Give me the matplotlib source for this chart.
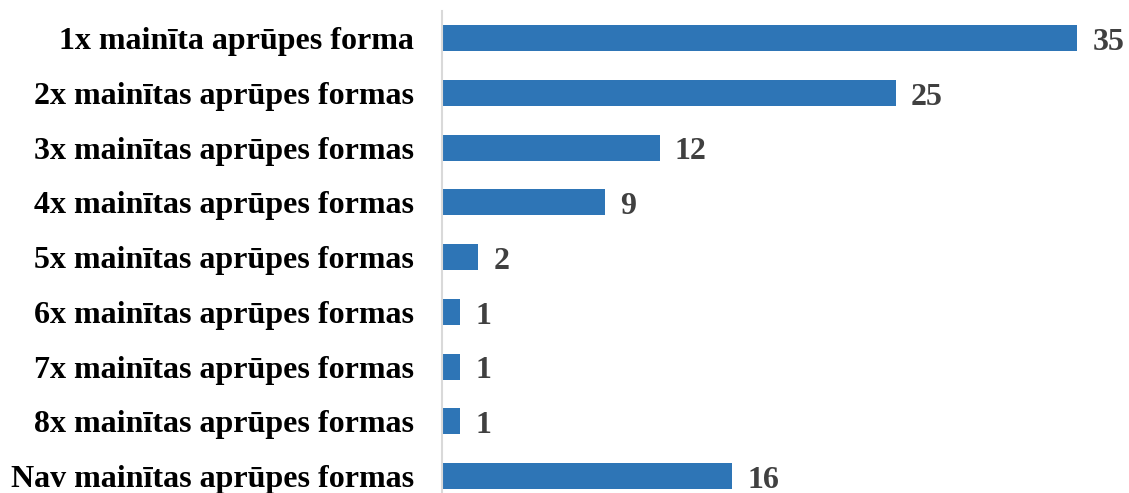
import matplotlib
matplotlib.use("Agg")
import matplotlib.pyplot as plt

categories = [
    "1x mainīta aprūpes forma",
    "2x mainītas aprūpes formas",
    "3x mainītas aprūpes formas",
    "4x mainītas aprūpes formas",
    "5x mainītas aprūpes formas",
    "6x mainītas aprūpes formas",
    "7x mainītas aprūpes formas",
    "8x mainītas aprūpes formas",
    "Nav mainītas aprūpes formas",
]
values = [35, 25, 12, 9, 2, 1, 1, 1, 16]

W, H = 1129, 493
fig = plt.figure(figsize=(W / 100, H / 100), dpi=100)
px_per_unit = (1078 - 443) / 35.0
xmax = 37.0
left_px, top_px = 442, 11
step = 54.7
n = len(categories)
height_px = step * n
ax = fig.add_axes([left_px / W, (H - top_px - height_px) / H,
                   xmax * px_per_unit / W, height_px / H])

ypos = list(range(n))
ax.barh(ypos, values, height=0.475, color="#2E75B6", zorder=2)
ax.set_ylim(n - 0.5, -0.5)
ax.set_xlim(0, xmax)

font = dict(family="Liberation Serif", weight="bold", size=23)
ax.set_yticks(ypos)
ax.set_yticklabels(categories, **font, color="black")
ax.tick_params(axis="y", length=0, pad=20)
ax.set_xticks([])
for s in ["top", "right", "bottom"]:
    ax.spines[s].set_visible(False)
ax.spines["left"].set_color("#D9D9D9")
ax.spines["left"].set_linewidth(1.5)

for y, v in zip(ypos, values):
    ax.annotate(str(v), (v, y), xytext=(11, -3), textcoords="offset points",
                va="center", ha="left", color="#404040", **font)

fig.savefig("out.png", dpi=100)
